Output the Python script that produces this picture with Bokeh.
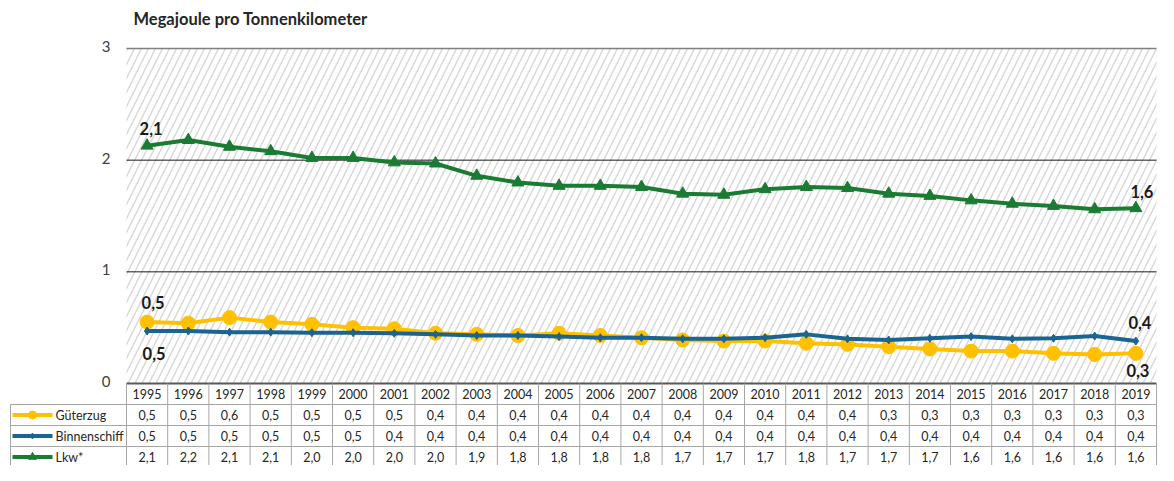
from bokeh.plotting import figure
from bokeh.models import Range1d
from bokeh.core.properties import value
from bokeh.embed import file_html
from bokeh.resources import INLINE

# ---------------- data ----------------
years = [str(y) for y in range(1995, 2020)]
series_names = ["Güterzug", "Binnenschiff", "Lkw*"]
gueterzug = [0.55, 0.54, 0.59, 0.55, 0.53, 0.50, 0.49, 0.45, 0.44, 0.43, 0.45, 0.43, 0.41,
             0.39, 0.38, 0.38, 0.36, 0.35, 0.33, 0.31, 0.29, 0.29, 0.27, 0.26, 0.27]
binnenschiff = [0.47, 0.47, 0.46, 0.46, 0.455, 0.455, 0.45, 0.44, 0.43, 0.43, 0.42, 0.41, 0.41,
                0.40, 0.40, 0.41, 0.44, 0.40, 0.39, 0.405, 0.42, 0.40, 0.405, 0.425, 0.38]
lkw = [2.13, 2.18, 2.12, 2.08, 2.02, 2.02, 1.98, 1.97, 1.86, 1.80, 1.77, 1.77, 1.76,
       1.70, 1.69, 1.74, 1.76, 1.75, 1.70, 1.68, 1.64, 1.61, 1.59, 1.56, 1.57]
gueterzug_tab = ["0,5", "0,5", "0,6", "0,5", "0,5", "0,5", "0,5", "0,4", "0,4", "0,4", "0,4", "0,4", "0,4",
                 "0,4", "0,4", "0,4", "0,4", "0,4", "0,3", "0,3", "0,3", "0,3", "0,3", "0,3", "0,3"]
binnenschiff_tab = ["0,5", "0,5", "0,5", "0,5", "0,5", "0,5", "0,4", "0,4", "0,4", "0,4", "0,4", "0,4", "0,4",
                    "0,4", "0,4", "0,4", "0,4", "0,4", "0,4", "0,4", "0,4", "0,4", "0,4", "0,4", "0,4"]
lkw_tab = ["2,1", "2,2", "2,1", "2,1", "2,0", "2,0", "2,0", "2,0", "1,9", "1,8", "1,8", "1,8", "1,8",
           "1,7", "1,7", "1,7", "1,8", "1,7", "1,7", "1,7", "1,6", "1,6", "1,6", "1,6", "1,6"]
y_ticks = [0, 1, 2, 3]
y_tick_labels = ["0", "1", "2", "3"]
title_text = "Megajoule pro Tonnenkilometer"

# ---------------- style / layout ----------------
W, H = 1158, 465
N = len(years)
PLOT_LEFT_PX, PLOT_RIGHT_PX = 126, 1156
PX_X = (PLOT_RIGHT_PX - PLOT_LEFT_PX) / N     # px per category
PLOT_TOP_PX, PLOT_ZERO_PX = 48, 383
PX_Y = (PLOT_ZERO_PX - PLOT_TOP_PX) / 3       # px per unit
x0 = -0.5 - PLOT_LEFT_PX / PX_X
x1 = N - 0.5 + (W - PLOT_RIGHT_PX) / PX_X
y1 = 3 + PLOT_TOP_PX / PX_Y
y0 = -(H - PLOT_ZERO_PX) / PX_Y
ROW = 21 / PX_Y

def X(px):  # figure-pixel -> data x
    return x0 + px / PX_X

def Y(py):  # figure-pixel (from top) -> data y
    return y1 - py / PX_Y

C_Y = "#FFC000"
C_B = "#1B6390"
C_G = "#1A7B32"
FONT = value("Lato")
TXT = "#262626"
BORDER = "#a6a6a6"

p = figure(width=W, height=H, output_backend="svg", toolbar_location=None,
           x_range=Range1d(x0, x1), y_range=Range1d(y0, y1), min_border=0)
p.axis.visible = False
p.grid.visible = False
p.outline_line_color = None
p.background_fill_color = "white"
p.border_fill_color = "white"

# hatched plot background
p.quad(left=[-0.5], right=[N - 0.5], bottom=[0], top=[max(y_ticks)], fill_color="white",
       line_color=None, hatch_pattern="/", hatch_color="#d6d6d6", hatch_scale=14, hatch_weight=1.4)

# gridlines
p.segment(x0=[-0.5, -0.5], x1=[N - 0.5, N - 0.5], y0=[1, 2], y1=[1, 2], line_color="#1a1a1a", line_width=1)
p.segment(x0=[-0.5], x1=[N - 0.5], y0=[3], y1=[3], line_color="#7f7f7f", line_width=1.5)

# y tick labels
p.text(x=[X(110)] * len(y_ticks), y=y_ticks, text=y_tick_labels, text_align="right",
       text_baseline="middle", text_font=FONT, text_font_size="15px", text_color="#404040",
       y_offset=-2)

# title
p.text(x=[X(133)], y=[Y(18)], text=[title_text], text_align="left", text_baseline="middle",
       text_font=FONT, text_font_size="16.5px", text_font_style="bold", text_color=TXT)

xs = list(range(N))
# lines
p.line(xs, gueterzug, line_color=C_Y, line_width=4)
p.scatter(xs, gueterzug, marker="circle", size=14, fill_color=C_Y, line_color=C_Y)
p.line(xs, binnenschiff, line_color=C_B, line_width=4)
p.scatter(xs, binnenschiff, marker="diamond", size=8, fill_color=C_B, line_color=C_B)
p.line(xs, lkw, line_color=C_G, line_width=4)
p.scatter(xs, lkw, marker="triangle", size=12, fill_color=C_G, line_color=C_G)

# data labels (first and last)
lab_kw = dict(text_align="center", text_baseline="middle", text_font=FONT,
              text_font_size="16.5px", text_font_style="bold", text_color="#1a1a1a")
p.text(x=[0], y=[lkw[0]], text=[lkw_tab[0]], x_offset=4, y_offset=-17, **lab_kw)
p.text(x=[0], y=[gueterzug[0]], text=[gueterzug_tab[0]], x_offset=6, y_offset=-20, **lab_kw)
p.text(x=[0], y=[binnenschiff[0]], text=[binnenschiff_tab[0]], x_offset=7, y_offset=22, **lab_kw)
p.text(x=[N - 1], y=[lkw[-1]], text=[lkw_tab[-1]], x_offset=6, y_offset=-17, **lab_kw)
p.text(x=[N - 1], y=[binnenschiff[-1]], text=[binnenschiff_tab[-1]], x_offset=4, y_offset=-19, **lab_kw)
p.text(x=[N - 1], y=[gueterzug[-1]], text=[gueterzug_tab[-1]], x_offset=2, y_offset=17, **lab_kw)

# ---------------- data table ----------------
leg_left = X(10)
# axis line
p.segment(x0=[-0.5], x1=[N - 0.5], y0=[0], y1=[0], line_color="#595959", line_width=2)
# horizontal borders
hy = [-ROW, -2 * ROW, -3 * ROW]
p.segment(x0=[leg_left] * 3, x1=[N - 0.5] * 3, y0=hy, y1=hy, line_color=BORDER, line_width=1)
# vertical borders
vx = [i - 0.5 for i in range(N + 1)]
p.segment(x0=vx, x1=vx, y0=[0] * len(vx), y1=[y0] * len(vx), line_color=BORDER, line_width=1)
p.segment(x0=[leg_left], x1=[leg_left], y0=[-ROW], y1=[y0], line_color=BORDER, line_width=1)

cell_kw = dict(text_align="center", text_baseline="middle", text_font=FONT,
               text_font_size="12.5px", text_color=TXT)
p.text(x=xs, y=[-0.5 * ROW] * N, text=years, **cell_kw)
rows = [gueterzug_tab, binnenschiff_tab, lkw_tab]
for k, r in enumerate(rows):
    p.text(x=xs, y=[-(k + 1.5) * ROW] * N, text=r, **cell_kw)

# legend inside table
colors = [C_Y, C_B, C_G]
markers = [("circle", 8), ("diamond", 6), ("triangle", 8)]
for k, (name, c, (m, s)) in enumerate(zip(series_names, colors, markers)):
    yy = -(k + 1.5) * ROW
    p.segment(x0=[X(12)], x1=[X(52)], y0=[yy], y1=[yy], line_color=c, line_width=4)
    p.scatter([X(32)], [yy], marker=m, size=s, fill_color=c, line_color=c)
    p.text(x=[X(55)], y=[yy], text=[name], text_align="left", text_baseline="middle",
           text_font=FONT, text_font_size="12.5px", text_color=TXT)

open("out.html", "w").write(file_html(p, INLINE))
